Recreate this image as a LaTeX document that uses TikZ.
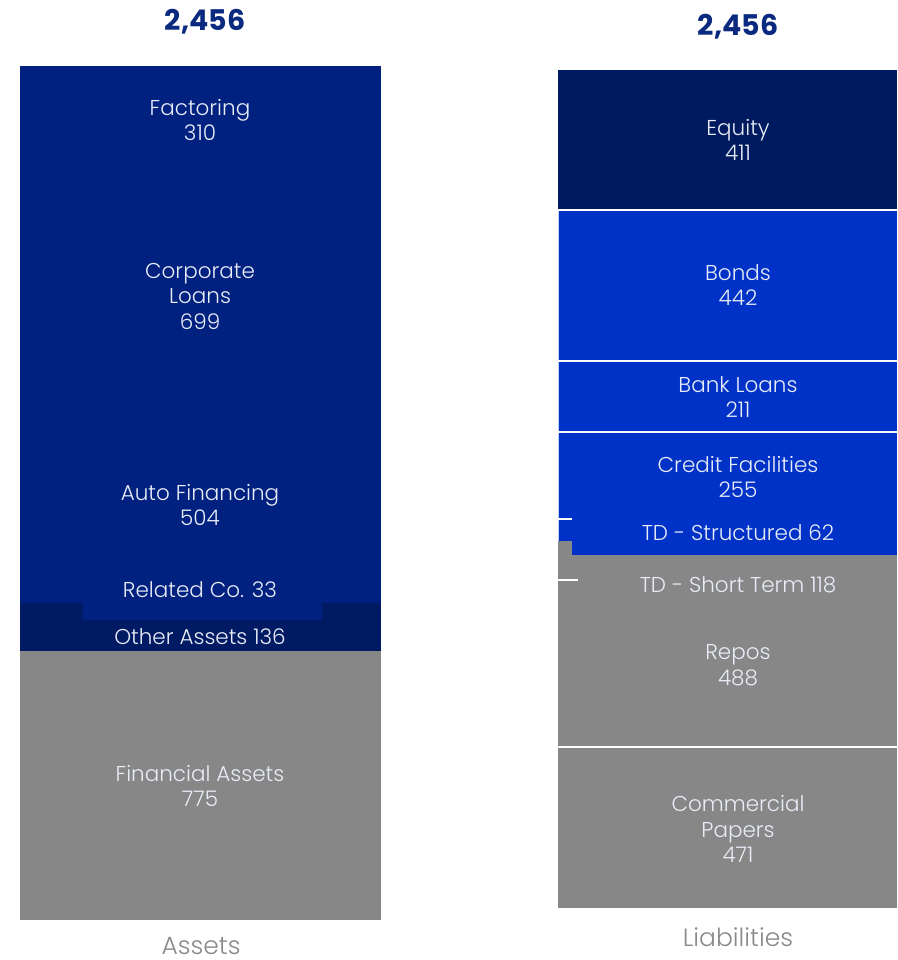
\documentclass[tikz,border=0pt]{standalone}
\usepackage{fontspec}
\setmainfont{Poppins}[UprightFont={* Light}, BoldFont={* Bold}]
\definecolor{assetblue}{HTML}{00217F}
\definecolor{darkband}{HTML}{001A63}
\definecolor{equityblue}{HTML}{001A5F}
\definecolor{bondblue}{HTML}{0032C8}
\definecolor{greyfill}{HTML}{878787}
\definecolor{headblue}{HTML}{0A2A80}
\definecolor{labelgrey}{HTML}{8A8A8A}
\definecolor{textlight}{HTML}{E8ECF6}
\begin{document}
\begin{tikzpicture}[x=1pt,y=-1pt,
  seg/.style={font=\fontsize{21.5}{25.5}\selectfont, text=textlight, align=center, inner sep=0pt},
  head/.style={font=\fontsize{28.5}{30}\selectfont\bfseries, text=headblue, inner sep=0pt},
  foot/.style={font=\fontsize{25}{28}\selectfont, text=labelgrey, inner sep=0pt, anchor=base},
  sep/.style={draw=white, line width=2pt},
  tick/.style={draw=white, line width=2pt}]
\useasboundingbox (0,0) rectangle (897,960);
% ---------- Assets bar ----------
\fill[assetblue] (20,66) rectangle (381,603);
\fill[darkband] (20,603) rectangle (381,651);
\fill[assetblue] (83,602) rectangle (322,620);
\fill[greyfill] (20,651) rectangle (381,920);
% ---------- Liabilities bar ----------
\fill[equityblue] (558,70) rectangle (897,209);
\fill[bondblue] (558,209) rectangle (897,555);
\fill[greyfill] (558,541) rectangle (897,908);
\fill[bondblue] (572,541) rectangle (897,555);
\draw[draw=white!75!bondblue, line width=1pt] (558.5,209) -- (558.5,541);
\draw[sep] (558,209.5) -- (897,209.5);
\draw[sep] (558,360.5) -- (897,360.5);
\draw[sep] (558,432) -- (897,432);
\draw[sep] (558,746.5) -- (897,746.5);
\coordinate (t1a) at (558,519);
\coordinate (t1b) at (572,519);
\coordinate (t2a) at (558,580);
\coordinate (t2b) at (578,580);
\draw[tick] (t1a) -- (t1b);
\draw[tick] (t2a) -- (t2b);
% ---------- Headings ----------
\node[head] (hA) at (205,22) {2,456};
\node[head] (hL) at (738,27) {2,456};
% ---------- Asset labels ----------
\node[seg] (fact) at (200,120) {Factoring\\310};
\node[seg] (corp) at (200,296) {Corporate\\Loans\\699};
\node[seg] (auto) at (200,505) {Auto Financing\\504};
\node[seg] (rel) at (200,590) {Related Co. 33};
\node[seg] (oth) at (200,637) {Other Assets 136};
\node[seg] (fin) at (200,786) {Financial Assets\\775};
% ---------- Liability labels ----------
\node[seg] (eq) at (738,140) {Equity\\411};
\node[seg] (bond) at (738,285) {Bonds\\442};
\node[seg] (bank) at (738,397) {Bank Loans\\211};
\node[seg] (cred) at (738,477) {Credit Facilities\\255};
\node[seg] (tds) at (738,533) {TD - Structured 62};
\node[seg] (tdst) at (738,585) {TD - Short Term 118};
\node[seg] (repo) at (738,665) {Repos\\488};
\node[seg] (cp) at (738,829) {Commercial\\Papers\\471};
% ---------- Footers ----------
\node[foot] (fA) at (201,954) {Assets};
\node[foot] (fL) at (738,946) {Liabilities};
\end{tikzpicture}
\end{document}
